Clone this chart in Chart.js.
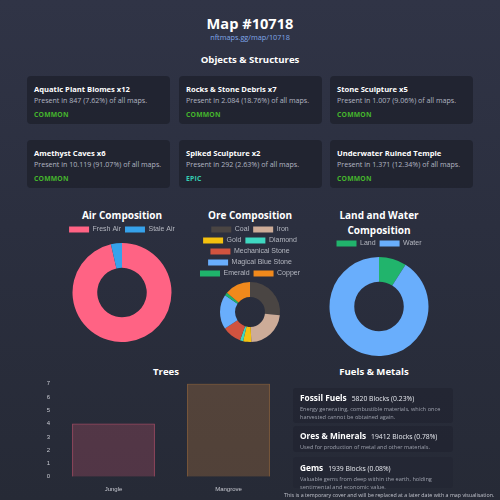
<!DOCTYPE html>
<html>
<head>
<meta charset="utf-8">
<script src="https://cdn.jsdelivr.net/npm/chart.js@4"></script>
<style>
html,body{margin:0;padding:0;}
body{width:500px;height:500px;overflow:hidden;position:relative;
 background:linear-gradient(180deg,#303446 0%,#2b2f3f 45%,#262a36 100%);
 font-family:"Open Sans","Noto Sans",sans-serif;color:#fff;}
.abs{position:absolute;}
.h1{left:0;width:500px;top:13px;text-align:center;font-weight:700;font-size:14.6px;line-height:20px;}
.link{left:0;width:500px;top:32px;text-align:center;font-size:7.3px;color:#7fa6e8;line-height:10px;}
.h2{font-weight:700;font-size:9.6px;line-height:14px;text-align:center;}
.card{background:rgba(30,32,43,0.75);border-radius:4px;width:143px;height:48px;box-sizing:border-box;padding:8px 0 0 7px;}
.card .t{font-weight:700;font-size:7.6px;line-height:11px;white-space:nowrap;}
.card .s{font-size:7.1px;color:#b2b6c2;line-height:11px;white-space:nowrap;}
.card .r{font-weight:700;font-size:6.8px;color:#45b52d;line-height:10px;margin-top:4px;letter-spacing:0.2px;}
.card .r.epic{color:#34cfb2;}
.fcard{background:rgba(33,36,48,0.7);border-radius:3px;left:293px;width:160px;box-sizing:border-box;padding:4px 0 0 7px;}
.fcard .t{font-weight:700;font-size:8.3px;line-height:12px;white-space:nowrap;}
.fcard .t span{font-weight:400;font-size:6.8px;margin-left:5px;color:#e6e8ee;}
.fcard .d{font-size:5.6px;color:#9da1ad;line-height:8px;width:150px;}
.foot{left:284px;top:491px;font-size:5.3px;color:#c0c3cc;white-space:nowrap;}
canvas{position:absolute;}
</style>
</head>
<body>
<div class="abs h1">Map #10718</div>
<div class="abs link">nftmaps.gg/map/10718</div>
<div class="abs h2" style="left:0;width:500px;top:53px;">Objects &amp; Structures</div>

<div class="abs card" style="left:27px;top:76px;"><div class="t">Aquatic Plant Biomes x12</div><div class="s">Present in 847 (7.62%) of all maps.</div><div class="r">COMMON</div></div>
<div class="abs card" style="left:179px;top:76px;"><div class="t">Rocks &amp; Stone Debris x7</div><div class="s">Present in 2.084 (18.76%) of all maps.</div><div class="r">COMMON</div></div>
<div class="abs card" style="left:330px;top:76px;"><div class="t">Stone Sculpture x5</div><div class="s">Present in 1.007 (9.06%) of all maps.</div><div class="r">COMMON</div></div>
<div class="abs card" style="left:27px;top:140px;"><div class="t">Amethyst Caves x6</div><div class="s">Present in 10.119 (91.07%) of all maps.</div><div class="r">COMMON</div></div>
<div class="abs card" style="left:179px;top:140px;"><div class="t">Spiked Sculpture x2</div><div class="s">Present in 292 (2.63%) of all maps.</div><div class="r epic">EPIC</div></div>
<div class="abs card" style="left:330px;top:140px;"><div class="t">Underwater Ruined Temple</div><div class="s">Present in 1.371 (12.34%) of all maps.</div><div class="r">COMMON</div></div>

<div class="abs h2" style="left:58px;width:128px;top:208px;font-size:10px;">Air Composition</div>
<div class="abs h2" style="left:186px;width:128px;top:208px;font-size:10px;">Ore Composition</div>
<div class="abs h2" style="left:315px;width:128px;top:208px;font-size:10px;line-height:14.5px;">Land and Water<br>Composition</div>

<canvas id="air" width="128" height="120" style="left:58px;top:222px;"></canvas>
<canvas id="ore" width="120" height="120" style="left:190px;top:222px;"></canvas>
<canvas id="land" width="128" height="120" style="left:315px;top:236px;"></canvas>

<div class="abs h2" style="left:100px;width:132px;top:365px;">Trees</div>
<canvas id="trees" width="258" height="128" style="left:28px;top:374px;"></canvas>

<div class="abs h2" style="left:294px;width:160px;top:365px;">Fuels &amp; Metals</div>
<div class="abs fcard" style="top:388px;height:35px;"><div class="t">Fossil Fuels<span>5820 Blocks (0.23%)</span></div><div class="d">Energy generating, combustible materials, which once harvested cannot be obtained again.</div></div>
<div class="abs fcard" style="top:426px;height:26px;"><div class="t">Ores &amp; Minerals<span>19412 Blocks (0.78%)</span></div><div class="d">Used for production of metal and other materials.</div></div>
<div class="abs fcard" style="top:457px;height:31px;background:rgba(33,36,48,0.4);"><div class="t" style="margin-top:1px">Gems<span>1939 Blocks (0.08%)</span></div><div class="d">Valuable gems from deep within the earth, holding sentimental and economic value.</div></div>
<div class="abs foot">This is a temporary cover and will be replaced at a later date with a map visualisation.</div>

<script>
const airLabels = ['Fresh Air', 'Stale Air'];
const airValues = [96.4, 3.6];
const airColors = ['#ff6384', '#36a2eb'];

const oreLabels = ['Coal', 'Iron', 'Gold', 'Diamond', 'Mechanical Stone', 'Magical Blue Stone', 'Emerald', 'Copper'];
const oreValues = [26.7, 22.5, 4.4, 1.7, 10.3, 18.6, 1.7, 13.9];
const oreColors = ['#4a4543', '#cdac98', '#f4c10f', '#3fd8c1', '#d1533f', '#69aefc', '#1fb36b', '#f0891c'];

const landLabels = ['Land', 'Water'];
const landValues = [9.0, 91.0];
const landColors = ['#21b46c', '#69aefc'];

const treeLabels = ['Jungle', 'Mangrove'];
const treeValues = [4, 7];
const treeTicks = [0, 1, 2, 3, 4, 5, 6, 7];

Chart.defaults.font.family = "'Liberation Sans', Arial, sans-serif";

function donut(id, labels, values, colors) {
  new Chart(document.getElementById(id), {
    type: 'doughnut',
    data: { labels: labels, datasets: [{ data: values, backgroundColor: colors, borderWidth: 0 }] },
    options: {
      responsive: false, animation: false, devicePixelRatio: 1, cutout: '50%',
      layout: { padding: 0 },
      plugins: {
        legend: { position: 'top', labels: { boxWidth: 20, boxHeight: 6, padding: 4, color: '#b4b7c0', font: { size: 7 } } },
        tooltip: { enabled: false }
      }
    }
  });
}
donut('air', airLabels, airValues, airColors);
donut('ore', oreLabels, oreValues, oreColors);
donut('land', landLabels, landValues, landColors);

new Chart(document.getElementById('trees'), {
  type: 'bar',
  data: {
    labels: treeLabels,
    datasets: [{
      data: treeValues,
      backgroundColor: ['rgba(255,99,132,0.2)', 'rgba(255,159,64,0.2)'],
      borderColor: ['rgba(255,99,132,0.55)', 'rgba(255,159,64,0.45)'],
      borderWidth: 1
    }]
  },
  options: {
    responsive: false, animation: false, devicePixelRatio: 1,
    layout: { padding: { top: 2, right: 0 } },
    plugins: { legend: { display: false }, tooltip: { enabled: false } },
    scales: {
      x: { grid: { display: false, drawTicks: false }, border: { display: false }, ticks: { color: '#c8cad2', font: { size: 6 }, padding: 9 } },
      y: {
        min: 0, max: 7, grid: { display: false, drawTicks: false }, border: { display: false },
        afterBuildTicks: s => { s.ticks = treeTicks.map(v => ({ value: v })); },
        afterFit: s => { s.width = 28; },
        ticks: { color: '#c8cad2', font: { size: 6 }, padding: 6 }
      }
    }
  }
});
</script>
</body>
</html>
